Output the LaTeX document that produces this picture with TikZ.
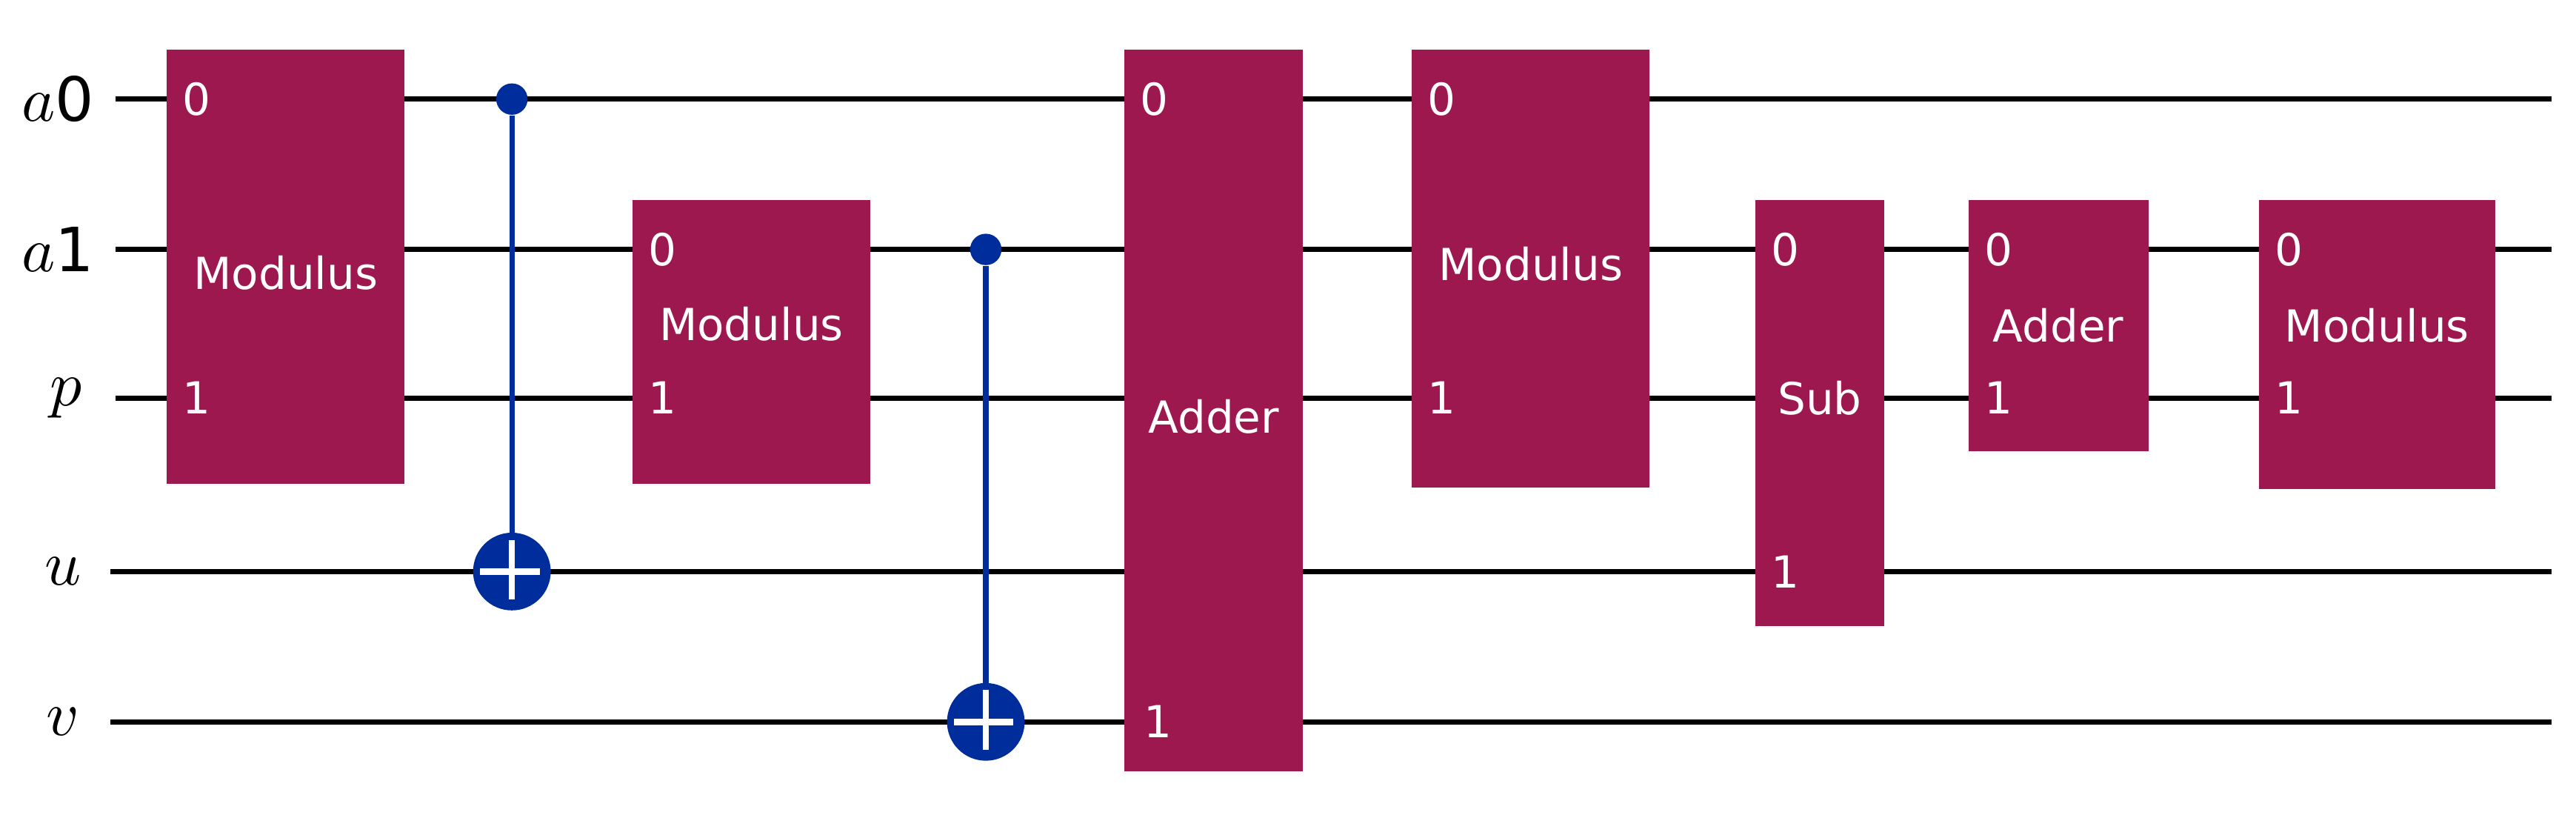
\documentclass[tikz,border=0pt]{standalone}
\usepackage{fontspec}
\setmainfont{DejaVu Sans}
\begin{document}
\begin{tikzpicture}[x=0.01cm,y=-0.01cm,
 wire/.style={line width=0.9pt,black},
 gate/.style={fill=gcol,draw=none},
 gt/.style={text=white,font=\fontsize{7.6}{9}\selectfont,inner sep=0},
 ql/.style={font=\fontsize{10.5}{12}\selectfont,inner sep=0},
 ctl/.style={line width=0.9pt,draw=qb}]
\definecolor{gcol}{RGB}{158,24,80}
\definecolor{qb}{RGB}{0,45,156}
\useasboundingbox (0,0) rectangle (1560,495);
% wires
\foreach \n/\y/\s in {a0/60/70,a1/151/70,p/241/70,u/346/67,v/437/67}{
 \coordinate (\n s) at (\s,\y); \coordinate (\n e) at (1545,\y);
 \draw[wire] (\n s) -- (\n e);}
\node[ql] (la0) at (35,60) {$a$0};
\node[ql] (la1) at (35,151) {$a$1};
\node[ql] (lp) at (40,241) {$p$};
\node[ql] (lu) at (38,346) {$u$};
\node[ql] (lv) at (38,437) {$v$};
% gates
\newcommand{\mygate}[8]{%
 \fill[gate] (#1,#3) rectangle (#2,#4);
 \node[gt] (#5) at ({(#1+#2)/2},#8) {#6};
 \node[gt,anchor=west] (#5z) at (#1+9,#7) {0};}
\mygate{101}{245}{30}{293}{g1}{Modulus}{60}{165}
\node[gt,anchor=west] (g1o) at (110,241) {1};
\mygate{383}{527}{121}{293}{g2}{Modulus}{151}{196}
\node[gt,anchor=west] (g2o) at (392,241) {1};
\mygate{681}{789}{30}{467}{g3}{Adder}{60}{252}
\node[gt,anchor=west] (g3o) at (692,437) {1};
\mygate{855}{999}{30}{295}{g4}{Modulus}{60}{160}
\node[gt,anchor=west] (g4o) at (864,241) {1};
\mygate{1063}{1141}{121}{379}{g5}{Sub}{151}{241}
\node[gt,anchor=west] (g5o) at (1072,346) {1};
\mygate{1192}{1301}{121}{273}{g6}{Adder}{151}{197}
\node[gt,anchor=west] (g6o) at (1201,241) {1};
\mygate{1368}{1511}{121}{296}{g7}{Modulus}{151}{197}
\node[gt,anchor=west] (g7o) at (1377,241) {1};
% CNOTs
\node[circle,fill=qb,minimum size=0.19cm,inner sep=0] (c1) at (310,60) {};
\node[circle,fill=qb,minimum size=0.47cm,inner sep=0] (t1) at (310,346) {};
\draw[ctl] (c1) -- (t1.center);
\draw[white,line width=1.1pt] (t1.north)++(0,5) -- ++(0,36) (t1.west)++(5,0) -- ++(36,0);
\node[circle,fill=qb,minimum size=0.19cm,inner sep=0] (c2) at (597,151) {};
\node[circle,fill=qb,minimum size=0.47cm,inner sep=0] (t2) at (597,437) {};
\draw[ctl] (c2) -- (t2.center);
\draw[white,line width=1.1pt] (t2.north)++(0,5) -- ++(0,36) (t2.west)++(5,0) -- ++(36,0);
\end{tikzpicture}
\end{document}
